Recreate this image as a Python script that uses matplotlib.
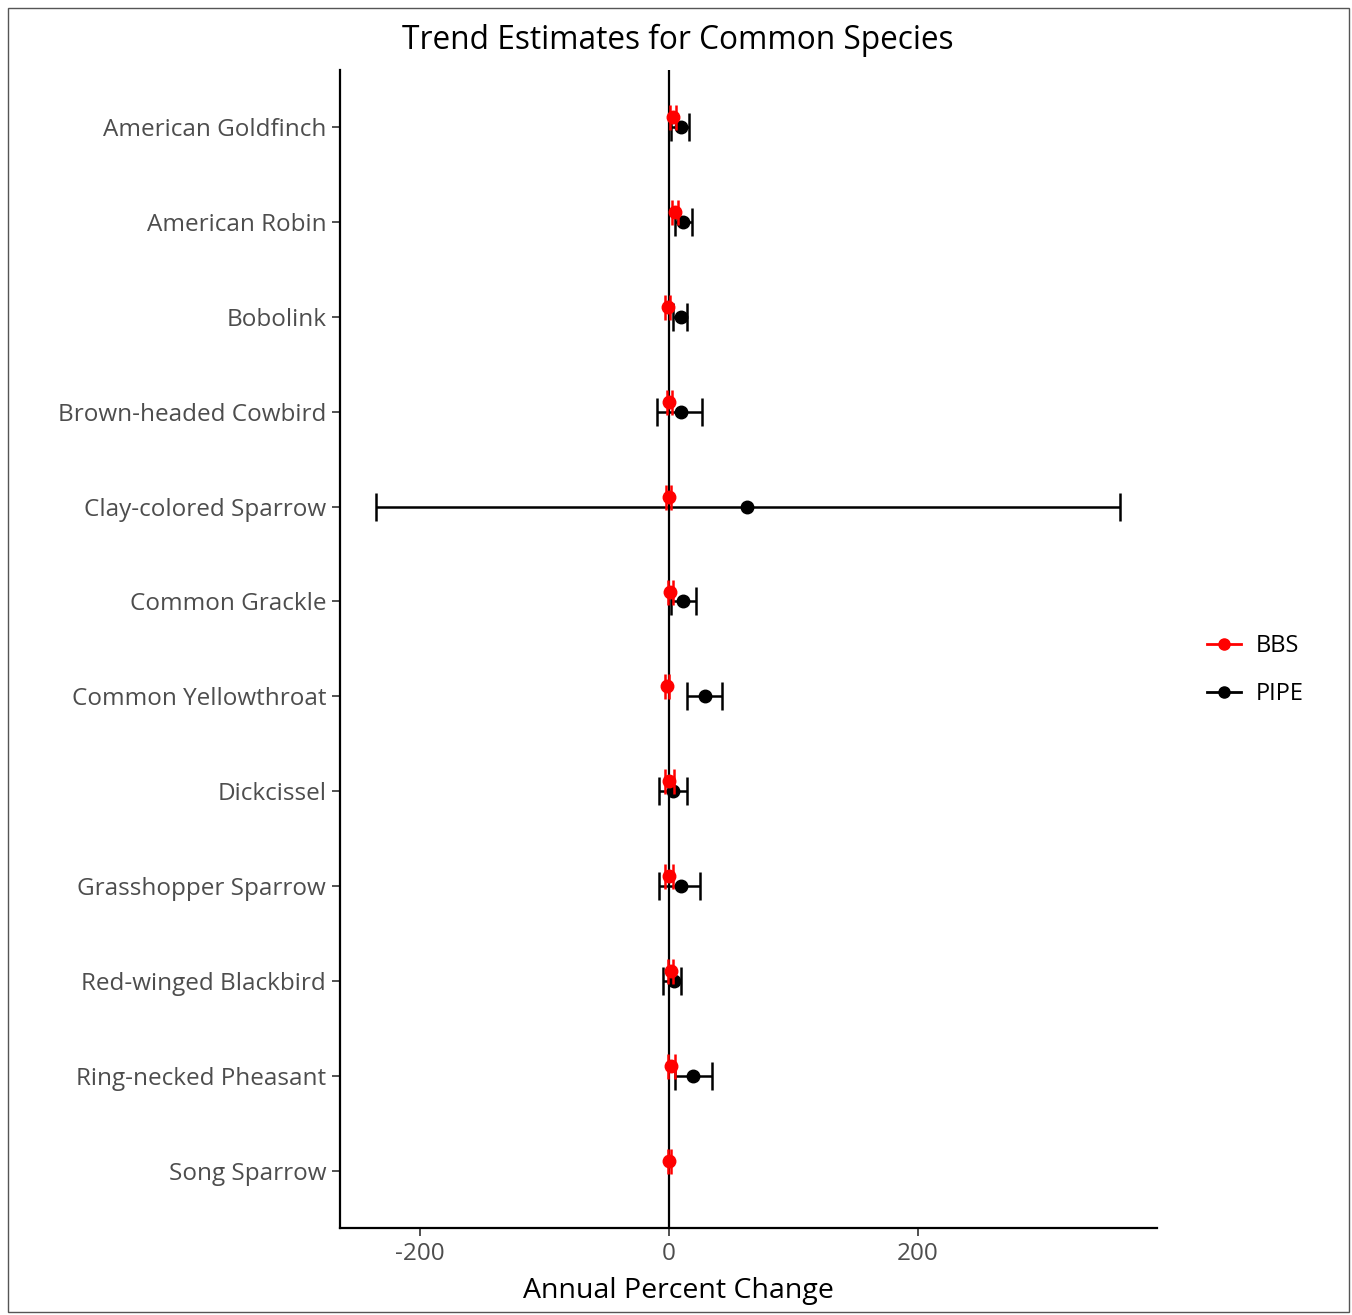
import matplotlib
matplotlib.use("Agg")
import matplotlib.pyplot as plt
from matplotlib.lines import Line2D
import numpy as np

plt.rcParams['font.family'] = ['Open Sans', 'DejaVu Sans']
plt.rcParams['axes.unicode_minus'] = False

species = ["American Goldfinch", "American Robin", "Bobolink", "Brown-headed Cowbird",
           "Clay-colored Sparrow", "Common Grackle", "Common Yellowthroat", "Dickcissel",
           "Grasshopper Sparrow", "Red-winged Blackbird", "Ring-necked Pheasant", "Song Sparrow"]

# BBS trend estimates and interval bounds
bbs_est = [3.2, 4.8, -1.0, 0.3, 0.0, 1.3, -1.3, 0.3, 0.3, 1.6, 2.1, 0.3]
bbs_lo = [0.8, 2.4, -3.0, -1.8, -2.0, -0.8, -3.0, -3.2, -2.8, -0.5, -1.0, -1.0]
bbs_hi = [5.6, 7.2, 1.0, 2.4, 2.0, 3.4, 0.4, 4.0, 3.4, 3.6, 5.2, 1.6]

# PIPE trend estimates and interval bounds (none for Song Sparrow)
pipe_est = [9.6, 11.5, 9.6, 9.6, 62.7, 11.5, 28.9, 3.5, 9.6, 4.3, 19.5, np.nan]
pipe_lo = [1.6, 4.8, 3.5, -9.4, -235.0, 1.6, 14.2, -7.8, -7.8, -4.6, 4.8, np.nan]
pipe_hi = [15.8, 18.5, 14.2, 26.7, 362.0, 22.2, 42.3, 14.2, 24.9, 9.6, 34.3, np.nan]

fig = plt.figure(figsize=(13.52, 13.15), dpi=100)
ax = fig.add_axes([0.2515, 0.0662, 0.6043, 0.8806])

n = len(species)
ypos = np.arange(n)
bbs_y = ypos - 0.105

ax.axvline(0, color="black", lw=1.6, zorder=1)

bbs_est = np.array(bbs_est); pipe_est = np.array(pipe_est)
ax.errorbar(pipe_est, ypos,
            xerr=[pipe_est - np.array(pipe_lo), np.array(pipe_hi) - pipe_est],
            fmt="o", color="black", ms=9, elinewidth=1.8, capsize=10, capthick=1.8,
            zorder=3)
ax.errorbar(bbs_est, bbs_y,
            xerr=[bbs_est - np.array(bbs_lo), np.array(bbs_hi) - bbs_est],
            fmt="o", color="red", ms=9, elinewidth=1.8, capsize=9, capthick=1.8,
            zorder=4)

ax.set_xlim(-264, 392)
ax.set_ylim(n - 1 + 0.6, -0.6)
ax.set_xticks([-200, 0, 200])
ax.set_yticks(ypos)
ax.set_yticklabels(species)

for side in ["top", "right"]:
    ax.spines[side].set_visible(False)
for side in ["left", "bottom"]:
    ax.spines[side].set_linewidth(1.6)
ax.tick_params(axis="both", colors="#333333", length=6, width=1.2,
               labelsize=17.5, labelcolor="#4D4D4D", pad=4)

handles = [Line2D([], [], color="red", marker="o", ms=8, lw=2),
           Line2D([], [], color="black", marker="o", ms=8, lw=2)]
fig.legend(handles, ["BBS", "PIPE"], loc="center left",
           bbox_to_anchor=(0.877, 0.4905), frameon=False, fontsize=17,
           handlelength=1.45, labelspacing=1.0, handletextpad=0.6)

fig.text(0.501, 0.969, "Trend Estimates for Common Species", ha="center", va="center",
         fontsize=22.8)
fig.text(0.502, 0.0185, "Annual Percent Change", ha="center", va="center", fontsize=20.5)

# thin frame round the figure
fig.patches.append(plt.Rectangle((0.006, 0.002), 0.992, 0.992, transform=fig.transFigure,
                                 fill=False, edgecolor="#555555", lw=1.0))

fig.savefig("out.png", dpi=100)
